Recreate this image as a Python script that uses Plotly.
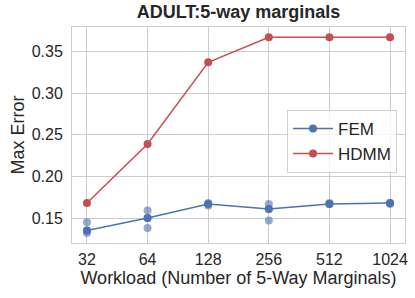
import math
import plotly.graph_objects as go

workload = [32, 64, 128, 256, 512, 1024]
fem_mean = [0.135, 0.150, 0.167, 0.161, 0.167, 0.168]
hdmm = [0.168, 0.239, 0.337, 0.367, 0.367, 0.367]
# individual FEM runs (semi-transparent points)
fem_runs_x = [32, 32, 32, 64, 64, 64, 128, 128, 256, 256, 256, 512, 512, 1024, 1024]
fem_runs_y = [0.145, 0.135, 0.132, 0.159, 0.150, 0.138, 0.168, 0.165, 0.167, 0.161, 0.147, 0.167, 0.168, 0.168, 0.167]
tick_labels = ["32", "64", "128", "256", "512", "1024"]

BLUE = "#4C72B0"
RED = "#C44E52"
FONT = "Liberation Sans, Arial, sans-serif"

fig = go.Figure()
fig.add_trace(go.Scatter(x=fem_runs_x, y=fem_runs_y, mode="markers",
                         marker=dict(color=BLUE, size=8, opacity=0.6),
                         showlegend=False, hoverinfo="skip"))
fig.add_trace(go.Scatter(x=workload, y=fem_mean, mode="lines+markers", name="FEM",
                         line=dict(color=BLUE, width=1.5), marker=dict(color=BLUE, size=8)))
fig.add_trace(go.Scatter(x=workload, y=hdmm, mode="lines+markers", name="HDMM",
                         line=dict(color=RED, width=1.5), marker=dict(color=RED, size=8)))

fig.update_layout(
    width=415, height=298,
    margin=dict(l=72, r=10, t=27, b=55, autoexpand=False),
    paper_bgcolor="white", plot_bgcolor="white",
    font=dict(family=FONT, color="#262626", size=16),
    title=dict(text="<b>ADULT:5-way marginals</b>", x=0.5, xanchor="center", xref="paper",
               y=1, yanchor="top", yref="container", pad=dict(t=5),
               font=dict(size=18, color="#262626")),
    xaxis=dict(type="log", range=[4.753 * math.log10(2), 10.247 * math.log10(2)],
               tickvals=workload, ticktext=tick_labels, automargin=False,
               showgrid=True, gridcolor="#cccccc", gridwidth=1,
               showline=True, linecolor="#cccccc", linewidth=1, mirror=True,
               ticks="", zeroline=False, tickfont=dict(size=16), ticklabelstandoff=2,
               title=dict(text="Workload (Number of 5-Way Marginals)", font=dict(size=18), standoff=4)),
    yaxis=dict(range=[0.1201, 0.3793], tickvals=[0.15, 0.20, 0.25, 0.30, 0.35],
               ticktext=["0.15", "0.20", "0.25", "0.30", "0.35"], automargin=False,
               showgrid=True, gridcolor="#cccccc", gridwidth=1,
               showline=True, linecolor="#cccccc", linewidth=1, mirror=True,
               ticks="", zeroline=False, tickfont=dict(size=16), ticklabelstandoff=5,
               title=dict(text="Max Error", font=dict(size=18), standoff=2)),
    legend=dict(x=0.976, y=0.616, xanchor="right", yanchor="top",
                bgcolor="rgba(255,255,255,0.8)", bordercolor="#d0d0d0", borderwidth=1,
                itemwidth=40, font=dict(size=17)),
)
fig.write_html("out.html", config={"displayModeBar": False},
               post_script="document.body.style.margin='0';")
